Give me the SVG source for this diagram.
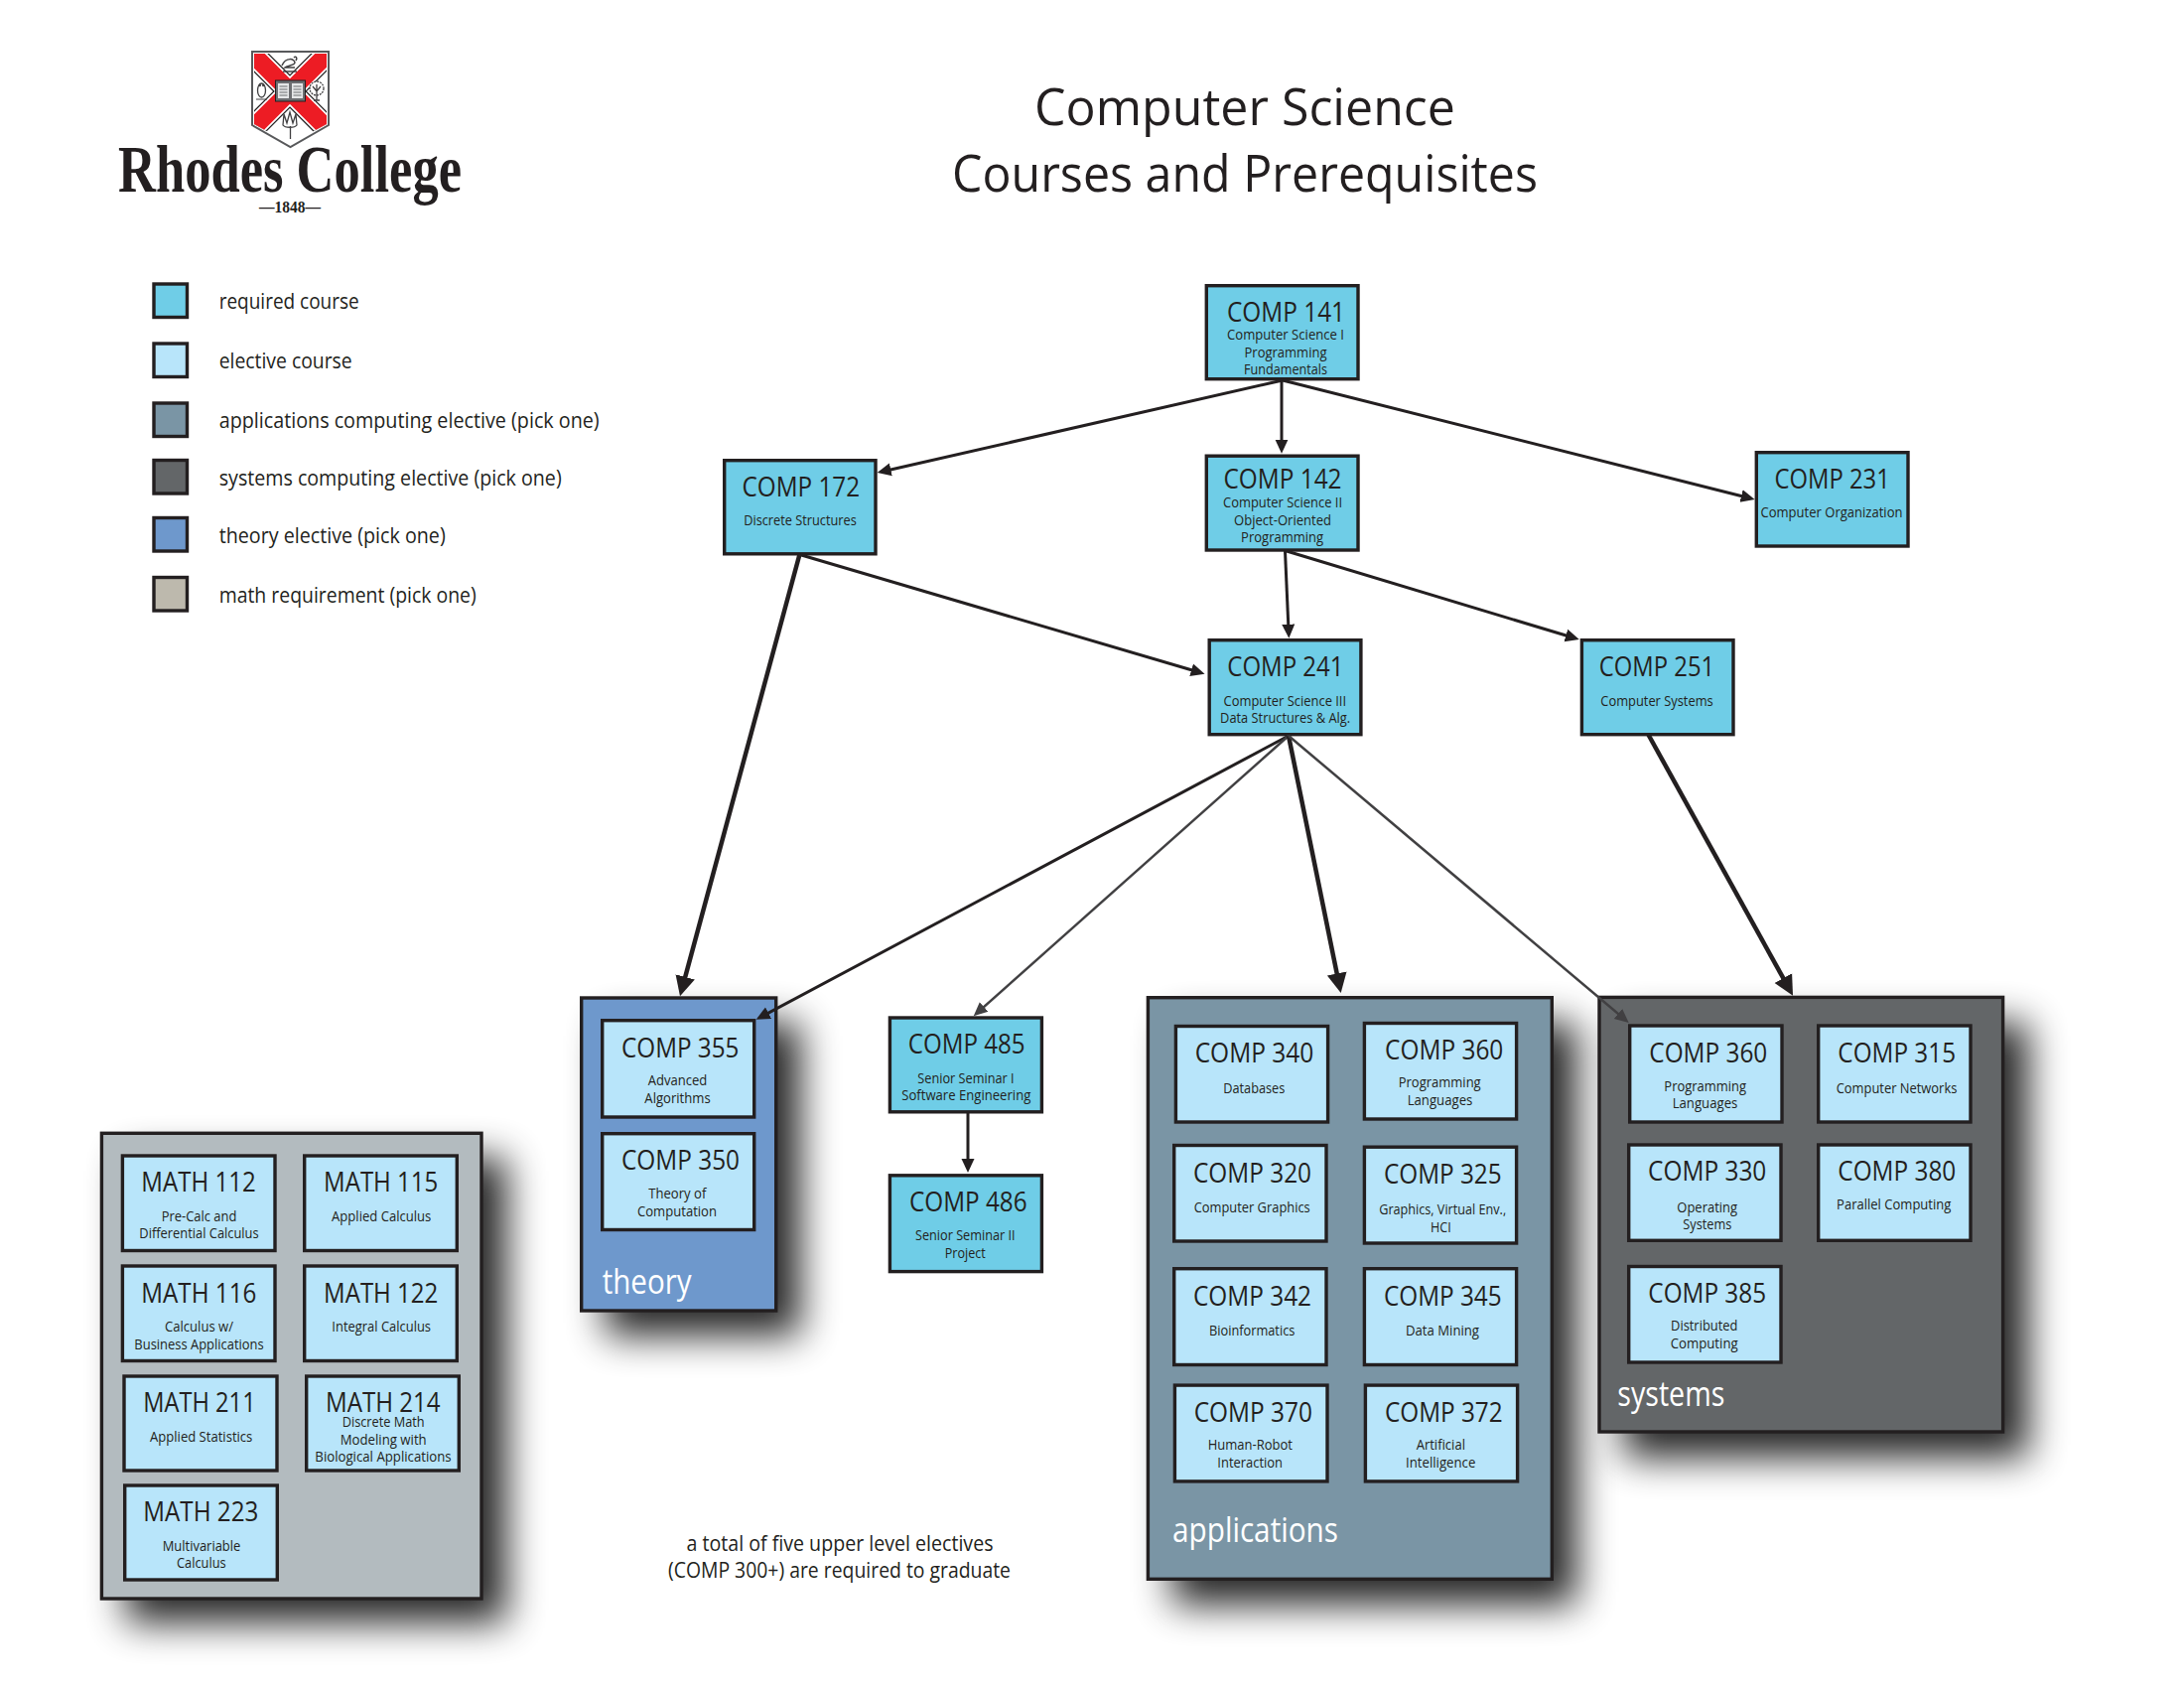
<svg xmlns="http://www.w3.org/2000/svg" width="2200" height="1700" viewBox="0 0 2200 1700">
<style>
text{font-family:"Open Sans","Noto Sans","Liberation Sans",sans-serif;fill:#231f20}
.t{font-size:27px;text-anchor:middle;transform:translateY(1.5px)}
.s{font-size:14.5px;text-anchor:middle;transform:translateY(.7px)}
.l{font-size:21.5px}
.p{font-size:34px;fill:#fff}
.h{font-size:52px;text-anchor:middle}
.f{font-size:21px;text-anchor:middle}
.box{stroke:#231f20;stroke-width:3.4}
.req{fill:#6fcde7}
.ele{fill:#b8e5fa}
.app{fill:#7a95a5}
.sys{fill:#636668}
.the{fill:#6e98cc}
.mat{fill:#bdb9ad}
.mpn{fill:#b3bbbf}
.shadow{fill:#000;opacity:.85;filter:url(#blur)}
.c{fill:none;stroke:#231f20;stroke-width:3;marker-end:url(#a)}
.g{fill:none;stroke:#414042;stroke-width:2.5;marker-end:url(#ag)}
.k{fill:none;stroke:#231f20;stroke-width:4.5;marker-end:url(#ak)}
</style>
<defs>
<filter id="blur" x="-40%" y="-40%" width="180%" height="180%"><feGaussianBlur stdDeviation="19"/></filter>
<marker id="a" markerUnits="userSpaceOnUse" markerWidth="18" markerHeight="16" refX="8" refY="8" orient="auto"><path d="M0 1.5L14 8L0 14.500Z" fill="#231f20"/></marker>
<marker id="ag" markerUnits="userSpaceOnUse" markerWidth="18" markerHeight="16" refX="8" refY="8" orient="auto"><path d="M0 1.5L14 8L0 14.500Z" fill="#414042"/></marker>
<marker id="ak" markerUnits="userSpaceOnUse" markerWidth="24" markerHeight="24" refX="10" refY="11" orient="auto"><path d="M0 1L20 11L0 21Z" fill="#231f20"/></marker>
<clipPath id="shieldclip"><path d="M256 54H329V125L292 145L256 125Z"/></clipPath>
</defs>

<g id="logo">
<path d="M254 52H331V126L292.500 148L254 126Z" fill="#fff" stroke="#58595b" stroke-width="2"/>
<g clip-path="url(#shieldclip)" fill="none">
<path d="M248 48L336 136M336 48L248 136" stroke="#231f20" stroke-width="24"/>
<path d="M248 48L336 136M336 48L248 136" stroke="#fff" stroke-width="21.500"/>
<path d="M248 48L336 136M336 48L248 136" stroke="#ed1c24" stroke-width="18"/>
</g>
<rect x="277.500" y="81" width="30" height="21" fill="#6d6e71" stroke="#231f20"/>
<rect x="280" y="84" width="11" height="15" fill="#e6e7e8"/><rect x="294" y="84" width="11" height="15" fill="#e6e7e8"/>
<path d="M281.500 87h8M281.500 90h8M281.500 93h8M281.500 96h8M295.500 87h8M295.500 90h8M295.500 93h8M295.500 96h8" stroke="#6d6e71" stroke-width="1"/>
<path d="M284 66c4-9 13-7 13-3c0 3-8 3-10 5h10M296 58c2-2 4 0 2 3M285 72h14" fill="none" stroke="#414042" stroke-width="1.500"/>
<ellipse cx="263.500" cy="91" rx="4" ry="7" fill="#fff" stroke="#414042" stroke-width="1.300"/>
<circle cx="261.800" cy="86" r="1.200" fill="#414042"/><circle cx="265.200" cy="86" r="1.200" fill="#414042"/><path d="M258 100h11" stroke="#414042"/>
<circle cx="319" cy="89" r="7" fill="#fff" stroke="#414042" stroke-width="1.300" stroke-dasharray="2 1"/>
<path d="M319 85V101M315 87l4 5l4-5M316 101h6" fill="none" stroke="#414042" stroke-width="1.300"/>
<path d="M286 115l3 9l3-11l3 11l3-9l1 11c-2 3-12 3-14 0ZM292.500 127V140" fill="#fff" stroke="#414042" stroke-width="1.300"/>
<text x="292" y="193" font-size="68" font-weight="700" text-anchor="middle" textLength="346" lengthAdjust="spacingAndGlyphs" style="font-family:'Liberation Serif',serif">Rhodes College</text>
<text x="292" y="214" font-size="16" font-weight="700" text-anchor="middle" textLength="62" lengthAdjust="spacingAndGlyphs" style="font-family:'Liberation Serif',serif">—1848—</text>
</g>

<g id="title">
<text class="h" x="1254" y="126" textLength="424" lengthAdjust="spacingAndGlyphs">Computer Science</text>
<text class="h" x="1254" y="193" textLength="590" lengthAdjust="spacingAndGlyphs">Courses and Prerequisites</text>
</g>

<g id="legend">
<rect class="box req" x="155" y="286" width="33.500" height="33.500"/>
<text class="l" x="220.700" y="311" textLength="141" lengthAdjust="spacingAndGlyphs">required course</text>
<rect class="box ele" x="155" y="346" width="33.500" height="33.500"/>
<text class="l" x="220.700" y="371" textLength="134" lengthAdjust="spacingAndGlyphs">elective course</text>
<rect class="box app" x="155" y="406" width="33.500" height="33.500"/>
<text class="l" x="220.700" y="431" textLength="383" lengthAdjust="spacingAndGlyphs">applications computing elective (pick one)</text>
<rect class="box sys" x="155" y="463.500" width="33.500" height="33.500"/>
<text class="l" x="220.700" y="489" textLength="345" lengthAdjust="spacingAndGlyphs">systems computing elective (pick one)</text>
<rect class="box the" x="155" y="521.500" width="33.500" height="33.500"/>
<text class="l" x="220.700" y="547.300" textLength="228" lengthAdjust="spacingAndGlyphs">theory elective (pick one)</text>
<rect class="box mat" x="155" y="581.500" width="33.500" height="33.500"/>
<text class="l" x="220.700" y="607" textLength="259" lengthAdjust="spacingAndGlyphs">math requirement (pick one)</text>
</g>

<g id="note">
<text class="f" x="846" y="1562" textLength="309" lengthAdjust="spacingAndGlyphs">a total of five upper level electives</text>
<text class="f" x="845.500" y="1589" textLength="345" lengthAdjust="spacingAndGlyphs">(COMP 300+) are required to graduate</text>
</g>

<g id="panel-math">
<rect class="shadow" x="127" y="1166" width="383" height="468"/>
<rect class="box mpn" x="102.400" y="1141.300" width="382.600" height="468.700"/>
</g>
<g id="panel-theory">
<rect class="shadow" x="610" y="1030" width="196" height="315"/>
<rect class="box the" x="585.700" y="1005" width="196" height="315"/>
<text class="p" x="606.700" y="1303" textLength="90" lengthAdjust="spacingAndGlyphs">theory</text>
</g>
<g id="panel-applications">
<rect class="shadow" x="1181" y="1030" width="407" height="586"/>
<rect class="box app" x="1156.400" y="1004.700" width="406.900" height="585.600"/>
<text class="p" x="1181" y="1552.500" textLength="167" lengthAdjust="spacingAndGlyphs">applications</text>
</g>
<g id="panel-systems">
<rect class="shadow" x="1636" y="1030" width="407" height="438"/>
<rect class="box sys" x="1611" y="1004.400" width="406.600" height="437.600"/>
<text class="p" x="1629.300" y="1416" textLength="108" lengthAdjust="spacingAndGlyphs">systems</text>
</g>

<g id="comp-141"><rect class="box req" x="1215.300" y="287.700" width="152.700" height="94"/>
<text class="t" x="1295.500" y="322.700" textLength="119" lengthAdjust="spacingAndGlyphs">COMP 141</text>
<text class="s" x="1295" y="341.700" textLength="118" lengthAdjust="spacingAndGlyphs">Computer Science I</text>
<text class="s" x="1295" y="359" textLength="83" lengthAdjust="spacingAndGlyphs">Programming</text>
<text class="s" x="1295" y="376.700" textLength="84" lengthAdjust="spacingAndGlyphs">Fundamentals</text></g>
<g id="comp-172"><rect class="box req" x="729.700" y="463.700" width="152.300" height="94.100"/>
<text class="t" x="806.800" y="498.300" textLength="118.600" lengthAdjust="spacingAndGlyphs">COMP 172</text>
<text class="s" x="806" y="528.300" textLength="113.600" lengthAdjust="spacingAndGlyphs">Discrete Structures</text></g>
<g id="comp-142"><rect class="box req" x="1215.300" y="459.200" width="152.700" height="94.800"/>
<text class="t" x="1292" y="490.700" textLength="119" lengthAdjust="spacingAndGlyphs">COMP 142</text>
<text class="s" x="1292" y="510.700" textLength="120" lengthAdjust="spacingAndGlyphs">Computer Science II</text>
<text class="s" x="1292" y="528.300" textLength="98" lengthAdjust="spacingAndGlyphs">Object-Oriented</text>
<text class="s" x="1291.600" y="545.700" textLength="83" lengthAdjust="spacingAndGlyphs">Programming</text></g>
<g id="comp-231"><rect class="box req" x="1769.300" y="455.700" width="152.700" height="94.300"/>
<text class="t" x="1845.700" y="490" textLength="116.300" lengthAdjust="spacingAndGlyphs">COMP 231</text>
<text class="s" x="1845" y="520.300" textLength="143" lengthAdjust="spacingAndGlyphs">Computer Organization</text></g>
<g id="comp-241"><rect class="box req" x="1218.200" y="644.700" width="152.700" height="95"/>
<text class="t" x="1294.900" y="679.300" textLength="117.300" lengthAdjust="spacingAndGlyphs">COMP 241</text>
<text class="s" x="1294.300" y="710" textLength="123.600" lengthAdjust="spacingAndGlyphs">Computer Science III</text>
<text class="s" x="1294.600" y="727.300" textLength="131" lengthAdjust="spacingAndGlyphs">Data Structures &amp; Alg.</text></g>
<g id="comp-251"><rect class="box req" x="1593.400" y="644.700" width="152.600" height="95"/>
<text class="t" x="1669" y="679.300" textLength="116.300" lengthAdjust="spacingAndGlyphs">COMP 251</text>
<text class="s" x="1669" y="710" textLength="113.400" lengthAdjust="spacingAndGlyphs">Computer Systems</text></g>

<g id="comp-355"><rect class="box ele" x="606.700" y="1027.700" width="153" height="97.300"/>
<text class="t" x="685.200" y="1063.300" textLength="118.300" lengthAdjust="spacingAndGlyphs">COMP 355</text>
<text class="s" x="682.500" y="1092.700" textLength="59.700" lengthAdjust="spacingAndGlyphs">Advanced</text>
<text class="s" x="682.500" y="1110" textLength="66.300" lengthAdjust="spacingAndGlyphs">Algorithms</text></g>
<g id="comp-350"><rect class="box ele" x="606.700" y="1141.700" width="153" height="96.800"/>
<text class="t" x="685.500" y="1176.700" textLength="119" lengthAdjust="spacingAndGlyphs">COMP 350</text>
<text class="s" x="682.300" y="1206" textLength="58" lengthAdjust="spacingAndGlyphs">Theory of</text>
<text class="s" x="682" y="1224.300" textLength="80" lengthAdjust="spacingAndGlyphs">Computation</text></g>
<g id="comp-485"><rect class="box req" x="896.400" y="1025" width="153" height="94.800"/>
<text class="t" x="973.700" y="1059.300" textLength="118" lengthAdjust="spacingAndGlyphs">COMP 485</text>
<text class="s" x="973" y="1090" textLength="97.300" lengthAdjust="spacingAndGlyphs">Senior Seminar I</text>
<text class="s" x="973.300" y="1107.700" textLength="130" lengthAdjust="spacingAndGlyphs">Software Engineering</text></g>
<g id="comp-486"><rect class="box req" x="896.400" y="1183.800" width="153" height="96.800"/>
<text class="t" x="975.300" y="1218.300" textLength="118.700" lengthAdjust="spacingAndGlyphs">COMP 486</text>
<text class="s" x="972.300" y="1248.300" textLength="100.700" lengthAdjust="spacingAndGlyphs">Senior Seminar II</text>
<text class="s" x="972.300" y="1266" textLength="41" lengthAdjust="spacingAndGlyphs">Project</text></g>

<g id="comp-340"><rect class="box ele" x="1184.400" y="1033.500" width="153.200" height="96.500"/>
<text class="t" x="1263.500" y="1068.400" textLength="119.700" lengthAdjust="spacingAndGlyphs">COMP 340</text>
<text class="s" x="1263.300" y="1100.400" textLength="62" lengthAdjust="spacingAndGlyphs">Databases</text></g>
<g id="comp-360-app"><rect class="box ele" x="1374.400" y="1030.500" width="153.200" height="96.500"/>
<text class="t" x="1454.700" y="1065.400" textLength="119.300" lengthAdjust="spacingAndGlyphs">COMP 360</text>
<text class="s" x="1450.200" y="1094.500" textLength="83" lengthAdjust="spacingAndGlyphs">Programming</text>
<text class="s" x="1450.500" y="1112.600" textLength="65.700" lengthAdjust="spacingAndGlyphs">Languages</text></g>
<g id="comp-320"><rect class="box ele" x="1182.700" y="1153.500" width="153.300" height="96.500"/>
<text class="t" x="1261.500" y="1189.200" textLength="119" lengthAdjust="spacingAndGlyphs">COMP 320</text>
<text class="s" x="1261.200" y="1219.900" textLength="117" lengthAdjust="spacingAndGlyphs">Computer Graphics</text></g>
<g id="comp-325"><rect class="box ele" x="1374.400" y="1155.200" width="153.200" height="96.800"/>
<text class="t" x="1453.300" y="1190.400" textLength="118.700" lengthAdjust="spacingAndGlyphs">COMP 325</text>
<text class="s" x="1453.200" y="1222" textLength="128" lengthAdjust="spacingAndGlyphs">Graphics, Virtual Env.,</text>
<text class="s" x="1451.300" y="1240" textLength="20.700" lengthAdjust="spacingAndGlyphs">HCI</text></g>
<g id="comp-342"><rect class="box ele" x="1182.700" y="1277.700" width="153.300" height="96.800"/>
<text class="t" x="1261.500" y="1313.300" textLength="119" lengthAdjust="spacingAndGlyphs">COMP 342</text>
<text class="s" x="1261.200" y="1344.500" textLength="86.300" lengthAdjust="spacingAndGlyphs">Bioinformatics</text></g>
<g id="comp-345"><rect class="box ele" x="1374.400" y="1277.700" width="153.200" height="96.800"/>
<text class="t" x="1453.300" y="1313.300" textLength="118.700" lengthAdjust="spacingAndGlyphs">COMP 345</text>
<text class="s" x="1453" y="1344.500" textLength="74" lengthAdjust="spacingAndGlyphs">Data Mining</text></g>
<g id="comp-370"><rect class="box ele" x="1183.400" y="1395.100" width="153.600" height="96.800"/>
<text class="t" x="1262.300" y="1430.800" textLength="119.300" lengthAdjust="spacingAndGlyphs">COMP 370</text>
<text class="s" x="1259.300" y="1459.800" textLength="85.300" lengthAdjust="spacingAndGlyphs">Human-Robot</text>
<text class="s" x="1259.200" y="1477.500" textLength="65.700" lengthAdjust="spacingAndGlyphs">Interaction</text></g>
<g id="comp-372"><rect class="box ele" x="1375.400" y="1395.100" width="153.200" height="96.800"/>
<text class="t" x="1454.300" y="1430.800" textLength="118.700" lengthAdjust="spacingAndGlyphs">COMP 372</text>
<text class="s" x="1451.300" y="1459.800" textLength="49.300" lengthAdjust="spacingAndGlyphs">Artificial</text>
<text class="s" x="1451.200" y="1477.500" textLength="70.300" lengthAdjust="spacingAndGlyphs">Intelligence</text></g>

<g id="comp-360-sys"><rect class="box ele" x="1641.700" y="1033" width="153.300" height="97"/>
<text class="t" x="1720.800" y="1068.300" textLength="119" lengthAdjust="spacingAndGlyphs">COMP 360</text>
<text class="s" x="1717.700" y="1098" textLength="82.700" lengthAdjust="spacingAndGlyphs">Programming</text>
<text class="s" x="1717.500" y="1115" textLength="65.700" lengthAdjust="spacingAndGlyphs">Languages</text></g>
<g id="comp-315"><rect class="box ele" x="1831.700" y="1033" width="153.300" height="97"/>
<text class="t" x="1910.700" y="1068.300" textLength="118.700" lengthAdjust="spacingAndGlyphs">COMP 315</text>
<text class="s" x="1910.500" y="1100.300" textLength="121.700" lengthAdjust="spacingAndGlyphs">Computer Networks</text></g>
<g id="comp-330"><rect class="box ele" x="1640.700" y="1153" width="153.300" height="96.300"/>
<text class="t" x="1719.700" y="1187.700" textLength="119.300" lengthAdjust="spacingAndGlyphs">COMP 330</text>
<text class="s" x="1719.700" y="1220" textLength="60.700" lengthAdjust="spacingAndGlyphs">Operating</text>
<text class="s" x="1719.800" y="1237.700" textLength="49" lengthAdjust="spacingAndGlyphs">Systems</text></g>
<g id="comp-380"><rect class="box ele" x="1831.700" y="1153" width="153.300" height="96.300"/>
<text class="t" x="1910.800" y="1187.700" textLength="119" lengthAdjust="spacingAndGlyphs">COMP 380</text>
<text class="s" x="1907.700" y="1217" textLength="115.300" lengthAdjust="spacingAndGlyphs">Parallel Computing</text></g>
<g id="comp-385"><rect class="box ele" x="1640.700" y="1275.500" width="153.300" height="96.500"/>
<text class="t" x="1719.700" y="1310.700" textLength="118.700" lengthAdjust="spacingAndGlyphs">COMP 385</text>
<text class="s" x="1716.700" y="1339.700" textLength="67.300" lengthAdjust="spacingAndGlyphs">Distributed</text>
<text class="s" x="1716.700" y="1357.300" textLength="68" lengthAdjust="spacingAndGlyphs">Computing</text></g>

<g id="math-112"><rect class="box ele" x="123.400" y="1164" width="153.600" height="95.500"/>
<text class="t" x="200" y="1198.900" textLength="115.300" lengthAdjust="spacingAndGlyphs">MATH 112</text>
<text class="s" x="200.500" y="1229.200" textLength="75.700" lengthAdjust="spacingAndGlyphs">Pre-Calc and</text>
<text class="s" x="200.500" y="1246.700" textLength="120.300" lengthAdjust="spacingAndGlyphs">Differential Calculus</text></g>
<g id="math-115"><rect class="box ele" x="306.700" y="1164" width="153.600" height="95.500"/>
<text class="t" x="383.700" y="1198.900" textLength="115.300" lengthAdjust="spacingAndGlyphs">MATH 115</text>
<text class="s" x="384.200" y="1229.200" textLength="100.300" lengthAdjust="spacingAndGlyphs">Applied Calculus</text></g>
<g id="math-116"><rect class="box ele" x="123.400" y="1275" width="153.600" height="95.500"/>
<text class="t" x="200.300" y="1310.100" textLength="116" lengthAdjust="spacingAndGlyphs">MATH 116</text>
<text class="s" x="200.500" y="1340" textLength="69" lengthAdjust="spacingAndGlyphs">Calculus w/</text>
<text class="s" x="200.500" y="1358" textLength="130.300" lengthAdjust="spacingAndGlyphs">Business Applications</text></g>
<g id="math-122"><rect class="box ele" x="306.700" y="1275" width="153.600" height="95.500"/>
<text class="t" x="383.700" y="1310.100" textLength="115.300" lengthAdjust="spacingAndGlyphs">MATH 122</text>
<text class="s" x="384.200" y="1340" textLength="99.700" lengthAdjust="spacingAndGlyphs">Integral Calculus</text></g>
<g id="math-211"><rect class="box ele" x="125" y="1386" width="154" height="95"/>
<text class="t" x="201" y="1420.600" textLength="113.300" lengthAdjust="spacingAndGlyphs">MATH 211</text>
<text class="s" x="202.700" y="1451" textLength="103.300" lengthAdjust="spacingAndGlyphs">Applied Statistics</text></g>
<g id="math-214"><rect class="box ele" x="308.700" y="1386" width="153.600" height="95"/>
<text class="t" x="385.800" y="1420.600" textLength="115.700" lengthAdjust="spacingAndGlyphs">MATH 214</text>
<text class="s" x="386.200" y="1436.500" textLength="83" lengthAdjust="spacingAndGlyphs">Discrete Math</text>
<text class="s" x="386.200" y="1454" textLength="87" lengthAdjust="spacingAndGlyphs">Modeling with</text>
<text class="s" x="386" y="1471.600" textLength="137.300" lengthAdjust="spacingAndGlyphs">Biological Applications</text></g>
<g id="math-223"><rect class="box ele" x="125.700" y="1496" width="153.600" height="95"/>
<text class="t" x="202.300" y="1530.800" textLength="116" lengthAdjust="spacingAndGlyphs">MATH 223</text>
<text class="s" x="203" y="1561" textLength="78.700" lengthAdjust="spacingAndGlyphs">Multivariable</text>
<text class="s" x="202.800" y="1578.300" textLength="49.700" lengthAdjust="spacingAndGlyphs">Calculus</text></g>

<g id="connectors">
<path class="c" d="M1292 383L889.500 474.700"/>
<path class="c" d="M1291 383V450.700"/>
<path class="c" d="M1292 383L1761.800 501.500"/>
<path class="c" d="M1294.500 555L1298.100 636.700"/>
<path class="c" d="M1296 555L1585 642.300"/>
<path class="c" d="M806.400 558.700L1207.800 677"/>
<path class="k" d="M805.300 559L687.600 993.600"/>
<path class="c" d="M1298 741L767 1023.900"/>
<path class="g" d="M1298 741L985.200 1019.300"/>
<path class="k" d="M1298 741L1348.700 990.200"/>
<path class="g" d="M1298 741L1636.100 1026.100"/>
<path class="k" d="M1660.500 740L1801.200 993.900"/>
<path class="c" d="M975 1120.700V1175"/>
</g>
</svg>
